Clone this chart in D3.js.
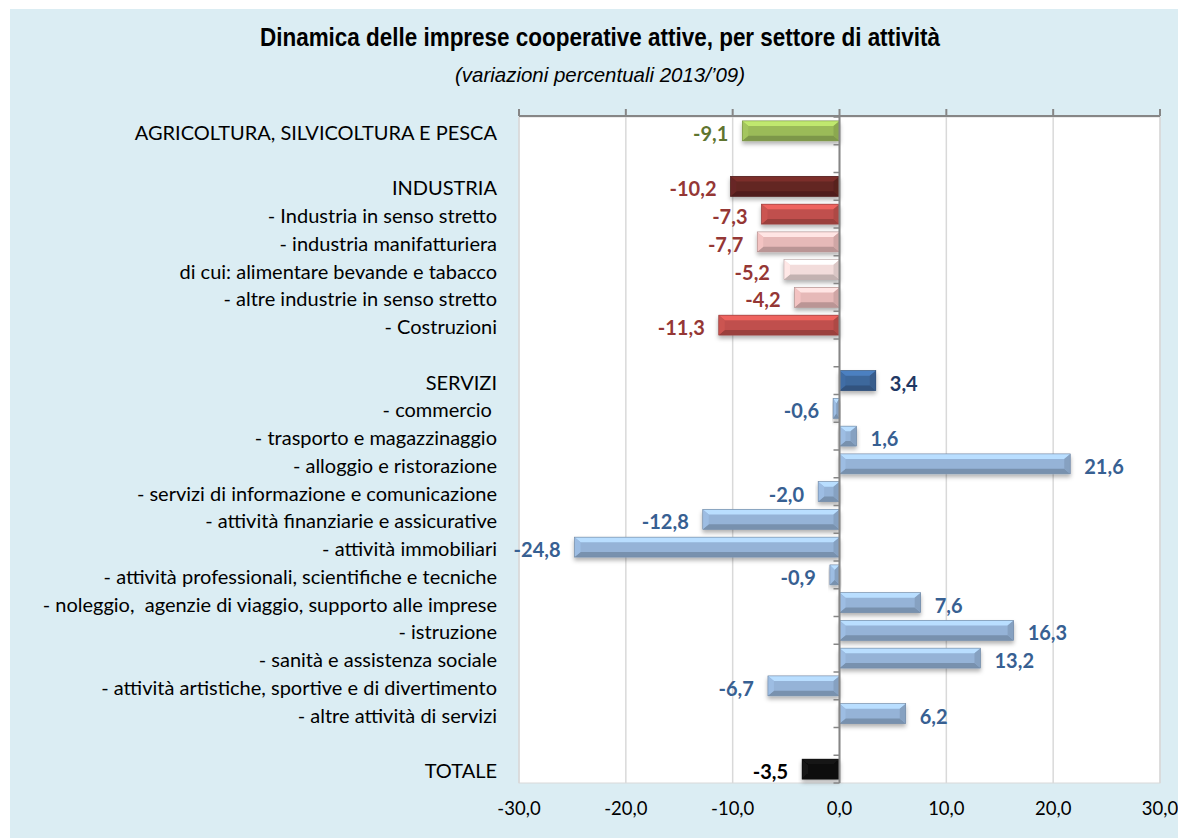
<!DOCTYPE html>
<html>
<head>
<meta charset="utf-8">
<script src="https://cdn.jsdelivr.net/npm/d3@7"></script>
<style>
  body { margin: 0; background: #fff; }
  svg { display: block; }
</style>
</head>
<body>
<div id="chart"></div>
<script>
// chart data (empty labels = spacer rows)
const categories = [
  "AGRICOLTURA, SILVICOLTURA E PESCA", "",
  "INDUSTRIA", "- Industria in senso stretto", "- industria manifatturiera",
  "di cui: alimentare bevande e tabacco", "- altre industrie in senso stretto", "- Costruzioni", "",
  "SERVIZI", "- commercio ", "- trasporto e magazzinaggio", "- alloggio e ristorazione",
  "- servizi di informazione e comunicazione", "- attività finanziarie e assicurative",
  "- attività immobiliari", "- attività professionali, scientifiche e tecniche",
  "- noleggio,  agenzie di viaggio, supporto alle imprese", "- istruzione",
  "- sanità e assistenza sociale", "- attività artistiche, sportive e di divertimento",
  "- altre attività di servizi", "",
  "TOTALE"
];
const values = [
  -9.1, null,
  -10.2, -7.3, -7.7, -5.2, -4.2, -11.3, null,
  3.4, -0.6, 1.6, 21.6, -2.0, -12.8, -24.8, -0.9, 7.6, 16.3, 13.2, -6.7, 6.2, null,
  -3.5
];
const barColors = [
  "#9bbb59", null,
  "#632523", "#c0504d", "#e6b9b8", "#f2dcdb", "#e6b9b8", "#c0504d", null,
  "#3d679c", "#95b3d7", "#95b3d7", "#95b3d7", "#95b3d7", "#95b3d7", "#95b3d7",
  "#95b3d7", "#95b3d7", "#95b3d7", "#95b3d7", "#95b3d7", "#95b3d7", null,
  "#111111"
];
const labelColors = [
  "#5f7530", null,
  "#953735", "#953735", "#953735", "#953735", "#953735", "#953735", null,
  "#1f3864", "#376092", "#376092", "#376092", "#376092", "#376092", "#376092",
  "#376092", "#376092", "#376092", "#376092", "#376092", "#376092", null,
  "#000000"
];
const xTicks = [-30, -20, -10, 0, 10, 20, 30];

const width = 1178, height = 838;
const plot = {left: 519, right: 1160, top: 117, bottom: 783};
const fmt = v => d3.format(".1f")(v).replace(".", ",").replace("−", "-");

const svg = d3.select("#chart").append("svg")
  .attr("width", width)
  .attr("height", height);

const defs = svg.append("defs");
const shadow = defs.append("filter").attr("id", "shadow")
  .attr("x", "-10%").attr("y", "-30%").attr("width", "130%").attr("height", "180%");
shadow.append("feDropShadow")
  .attr("dx", 0).attr("dy", 3).attr("stdDeviation", 2)
  .attr("flood-color", "#000").attr("flood-opacity", 0.3);

// background panel
svg.append("rect")
  .attr("x", 10).attr("y", 9)
  .attr("width", width - 10).attr("height", height - 9)
  .attr("fill", "#dbedf3");

// titles (narrow face squeezed to the original width)
svg.append("text")
  .attr("x", 260).attr("y", 46)
  .attr("textLength", 680)
  .attr("lengthAdjust", "spacingAndGlyphs")
  .style("font-family", "'Liberation Sans', Arial, sans-serif")
  .style("font-weight", "bold")
  .style("font-size", "25px")
  .attr("fill", "#000")
  .text("Dinamica delle imprese cooperative attive, per settore di attività");

svg.append("text")
  .attr("x", 455).attr("y", 82)
  .attr("textLength", 290)
  .attr("lengthAdjust", "spacingAndGlyphs")
  .style("font-family", "'Liberation Sans', Arial, sans-serif")
  .style("font-style", "italic")
  .style("font-size", "21px")
  .attr("fill", "#000")
  .text("(variazioni percentuali 2013/’09)");

// scales
const x = d3.scaleLinear().domain([-30, 30]).range([plot.left, plot.right]);
const y = d3.scaleBand().domain(d3.range(categories.length))
  .range([plot.top, plot.bottom]).paddingInner(0.28).paddingOuter(0.14);

// plot area
svg.append("rect")
  .attr("x", plot.left).attr("y", plot.top)
  .attr("width", plot.right - plot.left).attr("height", plot.bottom - plot.top)
  .attr("fill", "#fff")
  .attr("stroke", "#d9d9d9");

// gridlines
svg.append("g").selectAll("line")
  .data(xTicks)
  .join("line")
  .attr("x1", d => x(d)).attr("x2", d => x(d))
  .attr("y1", plot.top).attr("y2", plot.bottom)
  .attr("stroke", "#d9d9d9").attr("stroke-width", 1.5);

// top axis line with upward ticks
const topAxis = svg.append("g");
topAxis.append("line")
  .attr("x1", plot.left).attr("x2", plot.right)
  .attr("y1", plot.top - 1).attr("y2", plot.top - 1)
  .attr("stroke", "#868686").attr("stroke-width", 2);
topAxis.selectAll(".tk").data(xTicks).join("line")
  .attr("class", "tk")
  .attr("x1", d => x(d)).attr("x2", d => x(d))
  .attr("y1", plot.top - 8).attr("y2", plot.top - 1)
  .attr("stroke", "#868686").attr("stroke-width", 2);

// bottom tick labels
svg.append("g").selectAll("text")
  .data(xTicks)
  .join("text")
  .attr("x", d => x(d)).attr("y", 815)
  .attr("text-anchor", "middle")
  .style("font-family", "Lato, 'Open Sans', sans-serif")
  .style("font-size", "18.5px")
  .attr("fill", "#000")
  .text(fmt);

// category labels
svg.append("g").selectAll("text")
  .data(categories)
  .join("text")
  .attr("x", 497)
  .attr("y", (d, i) => y(i) + y.bandwidth() / 2 + 1)
  .attr("dominant-baseline", "central")
  .attr("text-anchor", "end")
  .attr("xml:space", "preserve")
  .style("white-space", "pre")
  .style("font-family", "Lato, 'Open Sans', sans-serif")
  .style("font-size", "20px")
  .attr("fill", "#000")
  .text(d => d);

// bars with bevel
const rows = values.map((v, i) => ({i, v, c: barColors[i], lc: labelColors[i]})).filter(d => d.v !== null);

const bars = svg.append("g").selectAll("g")
  .data(rows)
  .join("g")
  .attr("filter", "url(#shadow)");

bars.each(function(d) {
  const g = d3.select(this);
  const x0 = Math.min(x(0), x(d.v)), x1 = Math.max(x(0), x(d.v));
  const y0 = y(d.i), y1 = y(d.i) + y.bandwidth();
  const w = x1 - x0, h = y1 - y0;
  const b = Math.min(6, w / 2), bv = 5;
  const base = d3.color(d.c);
  g.append("rect").attr("x", x0).attr("y", y0).attr("width", w).attr("height", h)
    .attr("fill", d.c);
  const poly = (pts, col) => g.append("polygon")
    .attr("points", pts.map(p => p.join(",")).join(" "))
    .attr("fill", col);
  poly([[x0, y0], [x1, y0], [x1 - b, y0 + bv], [x0 + b, y0 + bv]], base.brighter(0.6));
  poly([[x0, y1], [x1, y1], [x1 - b, y1 - bv], [x0 + b, y1 - bv]], base.darker(0.6));
  poly([[x0, y0], [x0 + b, y0 + bv], [x0 + b, y1 - bv], [x0, y1]], base.brighter(0.15));
  poly([[x1, y0], [x1 - b, y0 + bv], [x1 - b, y1 - bv], [x1, y1]], base.darker(0.3));
  g.append("rect").attr("x", x0).attr("y", y0).attr("width", w).attr("height", h)
    .attr("fill", "none").attr("stroke", base.darker(0.8)).attr("stroke-width", 0.6);
});

// zero axis with small category ticks
const zeroAxis = svg.append("g");
zeroAxis.append("line")
  .attr("x1", x(0)).attr("x2", x(0))
  .attr("y1", plot.top).attr("y2", plot.bottom)
  .attr("stroke", "#868686").attr("stroke-width", 2);
zeroAxis.selectAll(".ct").data(d3.range(categories.length + 1)).join("line")
  .attr("class", "ct")
  .attr("x1", x(0) - 6).attr("x2", x(0))
  .attr("y1", i => plot.top + i * y.step())
  .attr("y2", i => plot.top + i * y.step())
  .attr("stroke", "#868686").attr("stroke-width", 1.5);

// value labels
svg.append("g").selectAll("text")
  .data(rows)
  .join("text")
  .attr("x", d => d.v < 0 ? x(d.v) - 14 : x(d.v) + 14)
  .attr("y", d => y(d.i) + y.bandwidth() / 2 + 2)
  .attr("dominant-baseline", "central")
  .attr("text-anchor", d => d.v < 0 ? "end" : "start")
  .style("font-family", "Lato, 'Open Sans', sans-serif")
  .style("font-weight", "bold")
  .style("font-size", "20px")
  .attr("fill", d => d.lc)
  .text(d => fmt(d.v));
</script>
</body>
</html>
